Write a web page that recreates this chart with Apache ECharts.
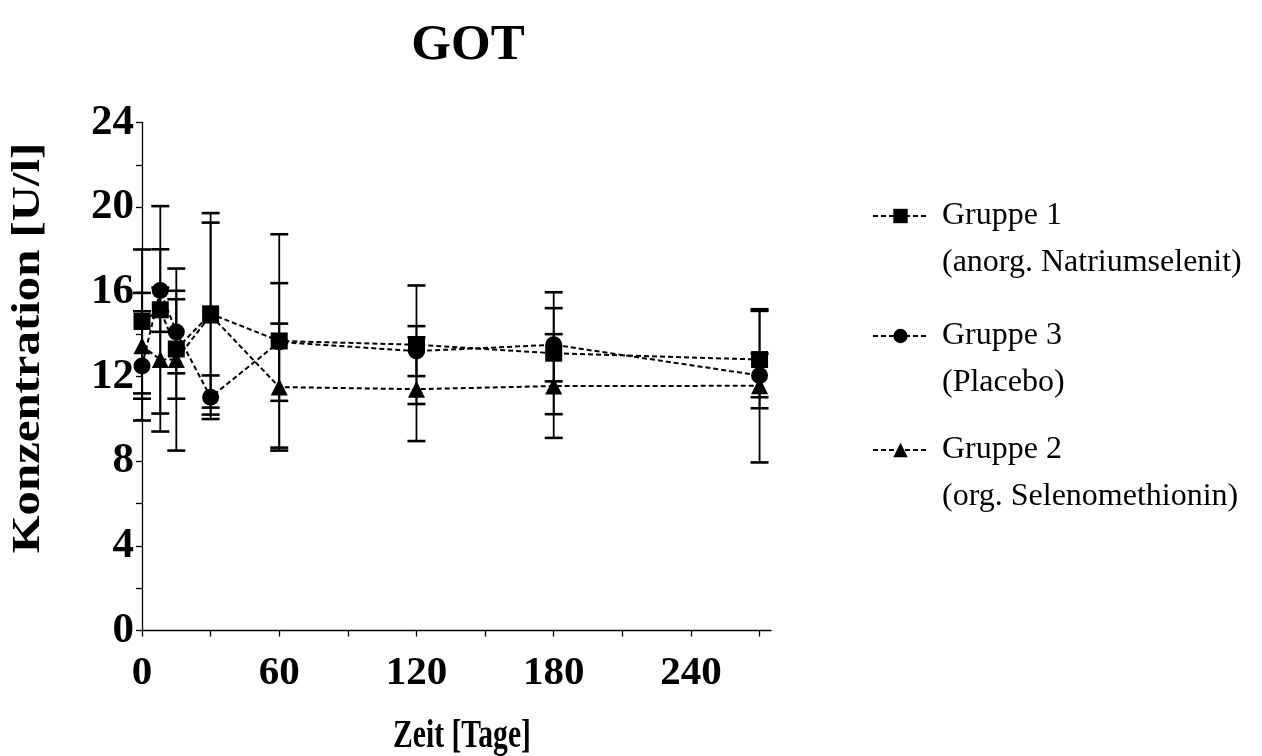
<!DOCTYPE html>
<html>
<head>
<meta charset="utf-8">
<script src="https://cdn.jsdelivr.net/npm/echarts@6/dist/echarts.min.js"></script>
<style>
  html, body { margin: 0; padding: 0; background: #fff; }
  #chart { width: 1262px; height: 756px; }
</style>
</head>
<body>
<div id="chart"></div>
<script>
// Sampling days (x) and group means ± SD (GOT, U/l)
const days = [0, 8, 15, 30, 60, 120, 180, 270];

const g1Mean = [14.6, 15.15, 13.3, 14.96, 13.68, 13.5, 13.1, 12.8];
const g1Sd   = [3.4, 4.9, 2.35, 4.76, 5.04, 2.8, 2.88, 2.3];

const g3Mean = [12.5, 16.06, 14.1, 11.02, 13.63, 13.2, 13.5, 12.05];
const g3Sd   = [2.58, 1.95, 1.95, 1.03, 2.78, 1.18, 1.73, 1.03];

const g2Mean = [13.45, 12.8, 12.8, 14.9, 11.5, 11.4, 11.55, 11.56];
const g2Sd   = [2.5, 3.4, 4.3, 4.37, 3.0, 2.45, 2.45, 3.62];

const xTicks  = [0, 30, 60, 90, 120, 150, 180, 210, 240, 270];
const xLabels = [0, 60, 120, 180, 240];
const yTicks  = [0, 2, 4, 6, 8, 10, 12, 14, 16, 18, 20, 22, 24];
const yLabels = [0, 4, 8, 12, 16, 20, 24];

const groupNames = ['Gruppe 1', 'Gruppe 3', 'Gruppe 2'];
const groupSubs  = ['(anorg. Natriumselenit)', '(Placebo)', '(org. Selenomethionin)'];

const titleText = 'GOT';
const xName = 'Zeit [Tage]';
const yName = 'Konzentration [U/l]';

const SERIF = "'Liberation Serif', 'Times New Roman', serif";

// vertical error bar with caps, mean ± sd
function errorBars(name, mean, sd) {
  return {
    name: name + ' SD',
    type: 'custom',
    silent: true,
    z: 1,
    data: days.map((d, i) => [d, mean[i] - sd[i], mean[i] + sd[i]]),
    encode: { x: 0, y: [1, 2] },
    renderItem(params, api) {
      const x = api.value(0);
      const lo = api.coord([x, api.value(1)]);
      const hi = api.coord([x, api.value(2)]);
      const half = 9;
      return {
        type: 'group',
        children: [
          { type: 'line', shape: { x1: lo[0], y1: lo[1], x2: hi[0], y2: hi[1] },
            style: { stroke: '#000', lineWidth: 1.8 } },
          { type: 'line', shape: { x1: hi[0] - half, y1: hi[1], x2: hi[0] + half, y2: hi[1] },
            style: { stroke: '#000', lineWidth: 2.6 } },
          { type: 'line', shape: { x1: lo[0] - half, y1: lo[1], x2: lo[0] + half, y2: lo[1] },
            style: { stroke: '#000', lineWidth: 2.6 } }
        ]
      };
    }
  };
}

function meanLine(name, mean, symbol) {
  return {
    name: name,
    type: 'line',
    z: 3,
    data: days.map((d, i) => [d, mean[i]]),
    symbol: symbol,
    symbolSize: 17,
    showAllSymbol: true,
    lineStyle: { color: '#000', width: 2, type: [5, 3] },
    itemStyle: { color: '#000', borderWidth: 0 },
    emphasis: { disabled: true }
  };
}

function legendFor(idx, top) {
  return {
    data: [groupNames[idx]],
    left: 872,
    top: top,
    padding: 0,
    itemWidth: 55,
    itemHeight: 18,
    selectedMode: false,
    formatter: (n) => '{t| }\n{t|' + n + '}\n{t|' + groupSubs[idx] + '}',
    textStyle: {
      rich: {
        t: { fontFamily: SERIF, fontSize: 32, color: '#000', lineHeight: 47, padding: [0, 0, 0, 9] }
      }
    }
  };
}

const chart = echarts.init(document.getElementById('chart'), null, { renderer: 'canvas' });

chart.setOption({
  animation: false,
  backgroundColor: '#fff',
  title: {
    text: titleText,
    left: 463,
    textAlign: 'center',
    top: 15,
    textStyle: { fontFamily: SERIF, fontWeight: 'bold', fontSize: 51, color: '#000' }
  },
  legend: [legendFor(0, 153), legendFor(1, 273), legendFor(2, 387)],
  grid: { left: 142, top: 122.5, width: 629, height: 508, containLabel: false, outerBoundsMode: 'none' },
  graphic: [
    {
      type: 'text', x: 462, y: 737, scaleX: 0.74,
      style: { text: xName, fontFamily: SERIF, fontWeight: 'bold', fontSize: 40, fill: '#000',
               align: 'center', verticalAlign: 'middle' }
    },
    {
      type: 'text', x: 29, y: 348, rotation: Math.PI / 2, scaleX: 1.22,
      style: { text: yName, fontFamily: SERIF, fontWeight: 'bold', fontSize: 40, fill: '#000',
               align: 'center', verticalAlign: 'middle' }
    }
  ],
  xAxis: {
    type: 'value',
    min: 0,
    max: 275,
    axisLine: { show: true, lineStyle: { color: '#000', width: 1.3 } },
    axisTick: { show: true, length: 6, customValues: xTicks, lineStyle: { color: '#000', width: 1.3 } },
    axisLabel: { customValues: xLabels, fontFamily: SERIF, fontWeight: 'bold', fontSize: 41, color: '#000', margin: 22 },
    splitLine: { show: false }
  },
  yAxis: {
    type: 'value',
    min: 0,
    max: 24,
    axisLine: { show: true, lineStyle: { color: '#000', width: 1.3 } },
    axisTick: { show: true, length: 6, customValues: yTicks, lineStyle: { color: '#000', width: 1.3 } },
    axisLabel: { customValues: yLabels, fontFamily: SERIF, fontWeight: 'bold', fontSize: 43, color: '#000', margin: 8 },
    splitLine: { show: false }
  },
  series: [
    errorBars(groupNames[0], g1Mean, g1Sd),
    errorBars(groupNames[1], g3Mean, g3Sd),
    errorBars(groupNames[2], g2Mean, g2Sd),
    meanLine(groupNames[0], g1Mean, 'rect'),
    meanLine(groupNames[1], g3Mean, 'circle'),
    meanLine(groupNames[2], g2Mean, 'triangle')
  ]
});
</script>
</body>
</html>
